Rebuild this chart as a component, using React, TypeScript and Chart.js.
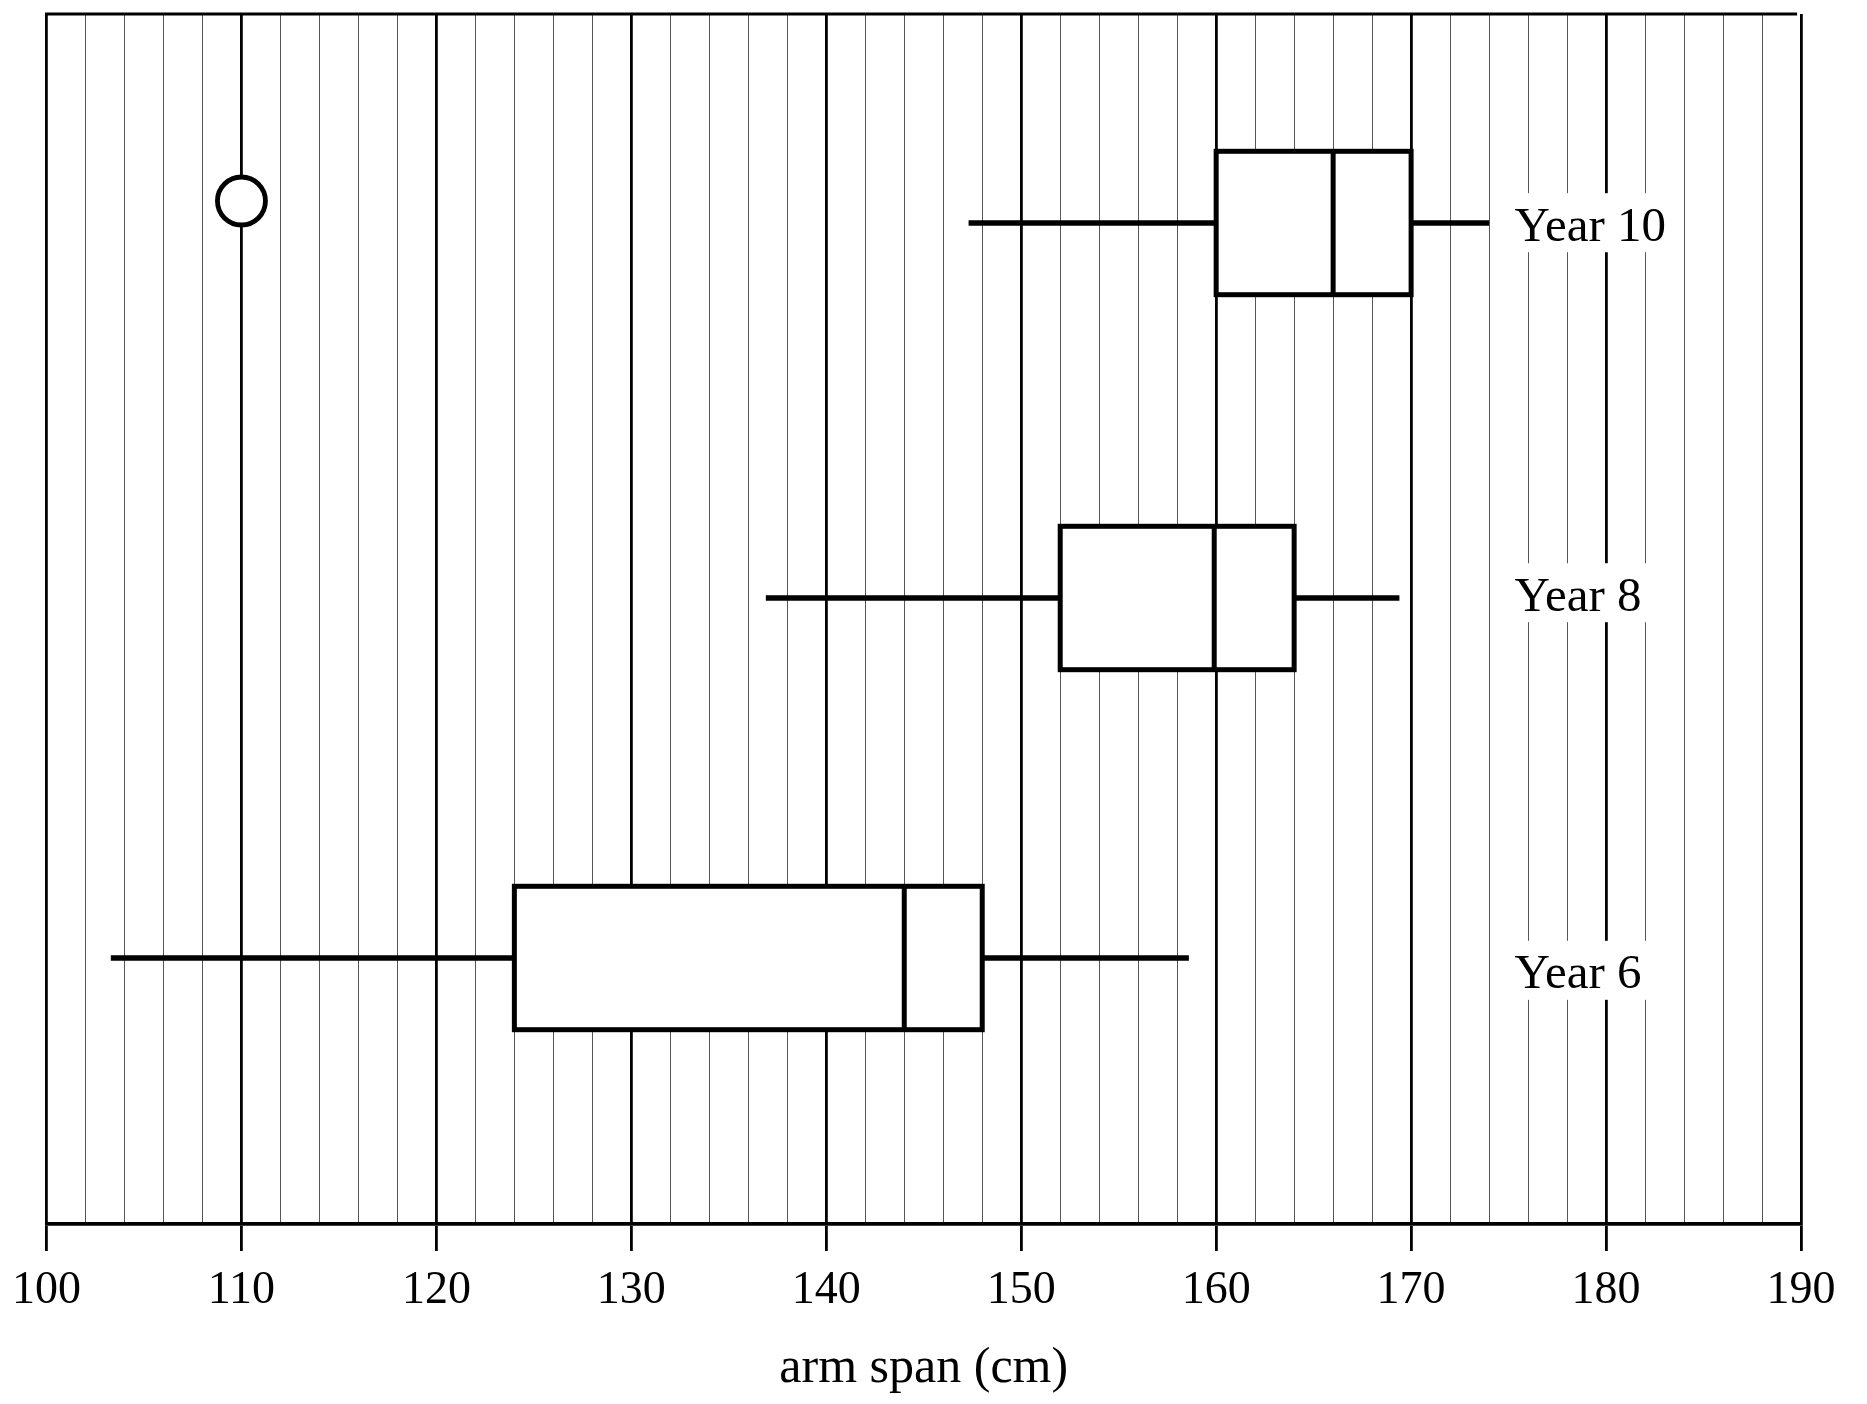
import React, { useEffect, useRef } from "react";
import { Chart, registerables } from "chart.js";

Chart.register(...registerables);

// ---- data ----
const groups = ["Year 6", "Year 8", "Year 10"];
const minVals = [103.3, 136.9, 147.3];
const q1Vals = [124, 152, 160];
const medianVals = [144, 159.9, 166];
const q3Vals = [148, 164, 170];
const maxVals = [158.6, 169.4, 174];
const outlierValues = [110];
const outlierRows = [102.3];

// vertical row positions on the hidden y scale
const rowPositions = [26.6, 62.6, 100.1];
const labelBaselines = [23.57, 61.33, 98.33];
const boxHalf = 7.17;

const xMin = 100;
const xMax = 190;
const xStep = 2;
const majorEvery = 10;
const axisTitle = "arm span (cm)";

const FONT = "'Liberation Serif', 'Times New Roman', serif";

const boxPlugin = {
  id: "boxPlugin",
  beforeDatasetsDraw(chart: any) {
    const { ctx, chartArea } = chart;
    const xs = chart.scales.x;
    const ys = chart.scales.y;
    ctx.save();
    // top border line
    ctx.strokeStyle = "#000";
    ctx.lineWidth = 3;
    ctx.beginPath();
    ctx.moveTo(chartArea.left - 1.5, chartArea.top);
    ctx.lineTo(xs.getPixelForValue(189.8), chartArea.top);
    ctx.stroke();

    for (let i = 0; i < groups.length; i++) {
      const yc = ys.getPixelForValue(rowPositions[i]);
      const yt = ys.getPixelForValue(rowPositions[i] + boxHalf);
      const yb = ys.getPixelForValue(rowPositions[i] - boxHalf);
      const xMinP = xs.getPixelForValue(minVals[i]);
      const xQ1 = xs.getPixelForValue(q1Vals[i]);
      const xMed = xs.getPixelForValue(medianVals[i]);
      const xQ3 = xs.getPixelForValue(q3Vals[i]);
      const xMaxP = xs.getPixelForValue(maxVals[i]);

      // whiskers
      ctx.lineWidth = 5.5;
      ctx.lineCap = "butt";
      ctx.beginPath();
      ctx.moveTo(xMinP, yc);
      ctx.lineTo(xQ1, yc);
      ctx.moveTo(xQ3, yc);
      ctx.lineTo(xMaxP, yc);
      ctx.stroke();

      // box
      ctx.fillStyle = "#fff";
      ctx.fillRect(xQ1, yt, xQ3 - xQ1, yb - yt);
      ctx.lineWidth = 5;
      ctx.lineJoin = "miter";
      ctx.strokeRect(xQ1, yt, xQ3 - xQ1, yb - yt);
      ctx.beginPath();
      ctx.moveTo(xMed, yt);
      ctx.lineTo(xMed, yb);
      ctx.stroke();

      // label
      ctx.font = `49px ${FONT}`;
      ctx.textAlign = "left";
      ctx.textBaseline = "alphabetic";
      const lx = xs.getPixelForValue(175.3);
      const ly = ys.getPixelForValue(labelBaselines[i]);
      const w = ctx.measureText(groups[i]).width;
      ctx.fillStyle = "#fff";
      ctx.fillRect(lx - 7, ly - 47.5, w + 14, 59);
      ctx.fillStyle = "#000";
      ctx.fillText(groups[i], lx, ly);
    }
    ctx.restore();
  },
};

export default function App() {
  const ref = useRef<HTMLCanvasElement | null>(null);
  useEffect(() => {
    if (!ref.current) return;
    const isMajor = (v: number) => Math.abs(v % majorEvery) < 1e-6;
    const chart = new Chart(ref.current, {
      type: "scatter",
      data: {
        datasets: [
          {
            label: "outliers",
            data: outlierValues.map((v, i) => ({ x: v, y: outlierRows[i] })),
            pointRadius: 24,
            pointHoverRadius: 24,
            pointBorderWidth: 4.8,
            pointBackgroundColor: "#fff",
            pointBorderColor: "#000",
            showLine: false,
          },
        ],
      },
      options: {
        animation: false,
        responsive: false,
        events: [],
        layout: { autoPadding: false, padding: { left: 46, right: 66, top: 14, bottom: 0 } },
        plugins: {
          legend: { display: false },
          tooltip: { enabled: false },
        },
        scales: {
          x: {
            type: "linear",
            position: "bottom",
            min: xMin,
            max: xMax,
            afterFit: (s: any) => {
              s.height = 180;
            },
            ticks: {
              stepSize: xStep,
              autoSkip: false,
              maxRotation: 0,
              minRotation: 0,
              padding: 12,
              color: "#000",
              font: { family: FONT, size: 46 },
              callback: (v: any) => (isMajor(Number(v)) ? String(v) : ""),
            },
            grid: {
              color: (c: any) => (c.tick && isMajor(c.tick.value) ? "#000" : "#555"),
              lineWidth: (c: any) => (c.tick && isMajor(c.tick.value) ? 2.8 : 1),
              tickLength: 27,
              tickColor: (c: any) => (c.tick && isMajor(c.tick.value) ? "#000" : "rgba(0,0,0,0)"),
              tickWidth: (c: any) => (c.tick && isMajor(c.tick.value) ? 2.8 : 1),
            },
            border: { display: true, color: "#000", width: 3.8 },
            title: {
              display: true,
              text: axisTitle,
              color: "#000",
              font: { family: FONT, size: 50 },
              padding: { top: 0, bottom: 5 },
            },
          },
          y: {
            type: "linear",
            display: false,
            min: 0,
            max: 121,
          },
        },
      },
      plugins: [boxPlugin],
    } as any);
    return () => chart.destroy();
  }, []);
  return (
    <div style={{ position: "absolute", left: 0, top: 0, width: 1867, height: 1404, background: "#fff" }}>
      <canvas ref={ref} width={1867} height={1404} style={{ display: "block" }} />
    </div>
  );
}
